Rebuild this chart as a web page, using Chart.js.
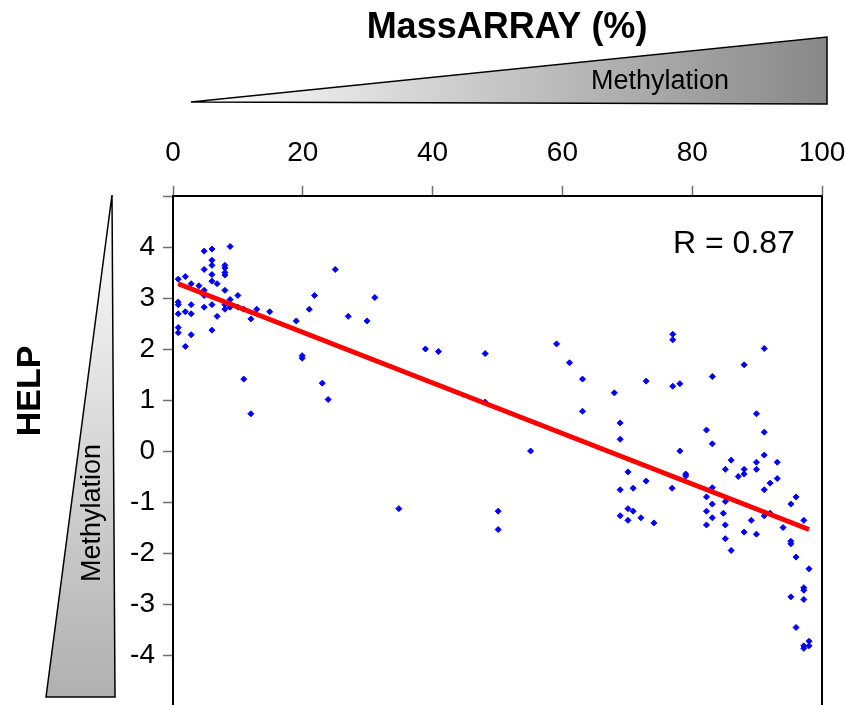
<!DOCTYPE html>
<html>
<head>
<meta charset="utf-8">
<script src="https://cdn.jsdelivr.net/npm/chart.js@4.4.1/dist/chart.umd.min.js"></script>
<style>
html, body { margin: 0; padding: 0; background: #fff; overflow: hidden; }
#wrap { width: 845px; height: 705px; overflow: hidden; }
</style>
</head>
<body>
<div id="wrap"><canvas id="myChart" width="845" height="712"></canvas></div>
<script>
// MassARRAY methylation (%) per locus
const massArray = [
    0.8, 1.9, 2.8, 4.0, 4.8, 6.0, 6.0, 6.0, 4.8, 6.0, 6.0, 6.8, 8.0, 8.0, 8.0, 8.0, 8.8, 8.0, 4.8, 4.8,
    0.8, 0.8, 2.8, 4.8, 6.0, 8.0, 8.0, 8.8, 8.8, 10.0, 10.0, 10.9, 12.9, 12.0, 14.9, 0.8, 1.9, 2.8, 6.8, 0.8,
    0.8, 2.8, 6.0, 1.9, 10.9, 12.0, 19.0, 19.9, 19.9, 21.0, 21.8, 25.0, 23.0, 23.9, 27.0, 29.9, 31.1, 38.9, 40.9, 48.1,
    48.1, 59.1, 61.1, 63.1, 63.1, 34.8, 50.1, 50.1, 55.1, 77.0, 77.0, 91.1, 88.0, 83.1, 72.9, 77.0, 78.1, 68.0, 68.9, 68.9,
    89.9, 82.2, 91.1, 83.1, 78.1, 70.1, 68.9, 70.9, 72.9, 76.9, 79.0, 79.0, 68.9, 70.1, 70.1, 70.9, 72.1, 74.1, 82.2, 83.1,
    83.1, 82.2, 84.8, 83.1, 82.2, 85.1, 85.1, 86.0, 85.1, 85.1, 86.0, 87.1, 88.0, 88.0, 88.0, 89.1, 89.9, 89.9, 89.9, 91.1,
    91.1, 92.0, 91.1, 92.0, 93.1, 93.1, 94.0, 95.2, 96.0, 97.2, 95.2, 95.2, 96.0, 98.0, 97.2, 97.2, 97.2, 95.2, 96.0, 97.2,
    97.2, 98.0, 98.0
];
// HELP log ratio for the same loci
const help = [
    3.37, 3.42, 3.28, 3.24, 3.92, 3.96, 3.74, 3.64, 3.56, 3.46, 3.33, 3.28, 3.64, 3.59, 3.50, 3.45, 4.01, 3.15, 3.15, 3.05,
    2.92, 2.87, 2.87, 2.82, 2.87, 2.87, 2.78, 2.97, 2.82, 3.05, 2.82, 2.78, 2.78, 2.59, 2.73, 2.69, 2.73, 2.69, 2.64, 2.42,
    2.32, 2.28, 2.37, 2.05, 1.41, 0.73, 2.55, 1.87, 1.82, 2.78, 3.05, 3.56, 1.33, 1.01, 2.64, 2.55, 3.01, 2.00, 1.95, 1.91,
    0.96, 2.10, 1.73, 1.41, 0.78, -1.13, -1.18, -1.54, 0.00, 2.29, 2.18, 2.01, 1.69, 1.46, 1.37, 1.27, 1.32, 1.14, 0.55, 0.23,
    0.73, 0.41, 0.37, 0.14, 0.00, -0.41, -0.76, -0.73, -0.59, -0.73, -0.45, -0.49, -1.27, -1.13, -1.36, -1.18, -1.31, -1.41, -0.90, -0.72,
    -1.04, -1.18, -1.22, -1.31, -1.45, -0.36, -0.99, -0.18, -1.45, -1.72, -1.95, -0.50, -0.36, -0.45, -1.59, -1.36, -0.22, -0.36, -1.63, -0.08,
    -0.76, -0.63, -1.27, -1.22, -0.22, -0.54, -1.50, -1.04, -0.90, -1.36, -1.77, -1.82, -2.08, -2.31, -2.68, -2.73, -2.91, -2.86, -3.46, -3.82,
    -3.87, -3.73, -3.82
];
// regression line end points
const fitX = [0.8, 98.0];
const fitY = [3.28, -1.54];

const xTicks = [0, 20, 40, 60, 80, 100];
const yTicks = [-4, -3, -2, -1, 0, 1, 2, 3, 4];
const rLabel = "R = 0.87";

const FONT = "'Liberation Sans', Arial, Helvetica, sans-serif";

const decorPlugin = {
    id: "decor",
    beforeDraw(chart) {
        const ctx = chart.ctx;
        ctx.save();
        ctx.fillStyle = "#fff";
        ctx.fillRect(0, 0, chart.width, chart.height);

        // top wedge
        let g = ctx.createLinearGradient(191, 0, 827, 0);
        g.addColorStop(0, "#ffffff");
        g.addColorStop(1, "#888888");
        ctx.beginPath();
        ctx.moveTo(191, 102);
        ctx.lineTo(827, 37);
        ctx.lineTo(827, 104);
        ctx.closePath();
        ctx.fillStyle = g;
        ctx.fill();
        ctx.strokeStyle = "#000";
        ctx.lineWidth = 1.5;
        ctx.stroke();

        // left wedge
        g = ctx.createLinearGradient(0, 195, 0, 697);
        g.addColorStop(0, "#ffffff");
        g.addColorStop(1, "#b0b0b0");
        ctx.beginPath();
        ctx.moveTo(112, 195);
        ctx.lineTo(115, 697);
        ctx.lineTo(46, 697);
        ctx.closePath();
        ctx.fillStyle = g;
        ctx.fill();
        ctx.stroke();

        ctx.fillStyle = "#000";
        ctx.textAlign = "center";
        ctx.textBaseline = "middle";
        ctx.font = "bold 36px " + FONT;
        ctx.fillText("MassARRAY (%)", 507, 28);

        ctx.font = "27px " + FONT;
        ctx.fillText("Methylation", 660, 82);

        ctx.save();
        ctx.translate(93, 513);
        ctx.rotate(-Math.PI / 2);
        ctx.fillText("Methylation", 0, 0);
        ctx.restore();

        ctx.save();
        ctx.translate(31, 391);
        ctx.rotate(-Math.PI / 2);
        ctx.font = "bold 34px " + FONT;
        ctx.fillText("HELP", 0, 0);
        ctx.restore();
        ctx.restore();
    },
    afterDraw(chart) {
        const ctx = chart.ctx;
        const area = chart.chartArea;
        ctx.save();
        ctx.strokeStyle = "#000";
        ctx.lineWidth = 2;
        ctx.beginPath();
        ctx.moveTo(area.right, area.top);
        ctx.lineTo(area.right, area.bottom);
        ctx.stroke();

        ctx.fillStyle = "#000";
        ctx.font = "32px " + FONT;
        ctx.textAlign = "left";
        ctx.textBaseline = "alphabetic";
        ctx.fillText(rLabel, 673, 253);
        ctx.restore();
    }
};

const ctx = document.getElementById("myChart").getContext("2d");
window.myChart = new Chart(ctx, {
    data: {
        datasets: [
            {
                type: "line",
                label: "fit",
                data: fitX.map((x, i) => ({ x: x, y: fitY[i] })),
                borderColor: "#ff0000",
                borderWidth: 5,
                pointRadius: 0,
                fill: false,
                order: 0,
            },
            {
                type: "scatter",
                label: "loci",
                data: massArray.map((x, i) => ({ x: x, y: help[i] })),
                backgroundColor: "#0000ff",
                borderColor: "#0000ff",
                borderWidth: 1,
                pointStyle: "rectRot",
                pointRadius: 3,
                order: 1,
            },
        ],
    },
    options: {
        responsive: false,
        animation: false,
        devicePixelRatio: 1,
        layout: { padding: { left: 0, right: 23, top: 0, bottom: 6 } },
        plugins: {
            legend: { display: false },
            tooltip: { enabled: false },
        },
        scales: {
            x: {
                type: "linear",
                position: "top",
                min: 0,
                max: 100,
                afterBuildTicks: (scale) => {
                    scale.ticks = xTicks.map((v) => ({ value: v }));
                },
                afterFit: (scale) => {
                    scale.height = 196;
                    scale.paddingLeft = 0;
                    scale.paddingRight = 0;
                },
                ticks: {
                    color: "#000",
                    font: { family: FONT, size: 28 },
                    padding: 16,
                    maxRotation: 0,
                    autoSkip: false,
                },
                grid: {
                    drawOnChartArea: false,
                    drawTicks: true,
                    tickLength: 10,
                    tickColor: "#6e6e6e",
                    tickWidth: 1.5,
                },
                border: { display: true, color: "#000", width: 2 },
            },
            y: {
                type: "linear",
                position: "left",
                min: -5,
                max: 5,
                ticks: {
                    stepSize: 1,
                    color: "#000",
                    font: { family: FONT, size: 28 },
                    padding: 8,
                    autoSkip: false,
                    callback: (v) => (yTicks.includes(v) ? String(v) : ""),
                },
                afterFit: (scale) => {
                    scale.width = 173;
                    scale.paddingTop = 0;
                    scale.paddingBottom = 0;
                },
                grid: {
                    drawOnChartArea: false,
                    drawTicks: true,
                    tickLength: 10,
                    tickColor: "#6e6e6e",
                    tickWidth: 1.5,
                },
                border: { display: true, color: "#000", width: 2 },
            },
        },
    },
    plugins: [decorPlugin],
});
</script>
</body>
</html>
